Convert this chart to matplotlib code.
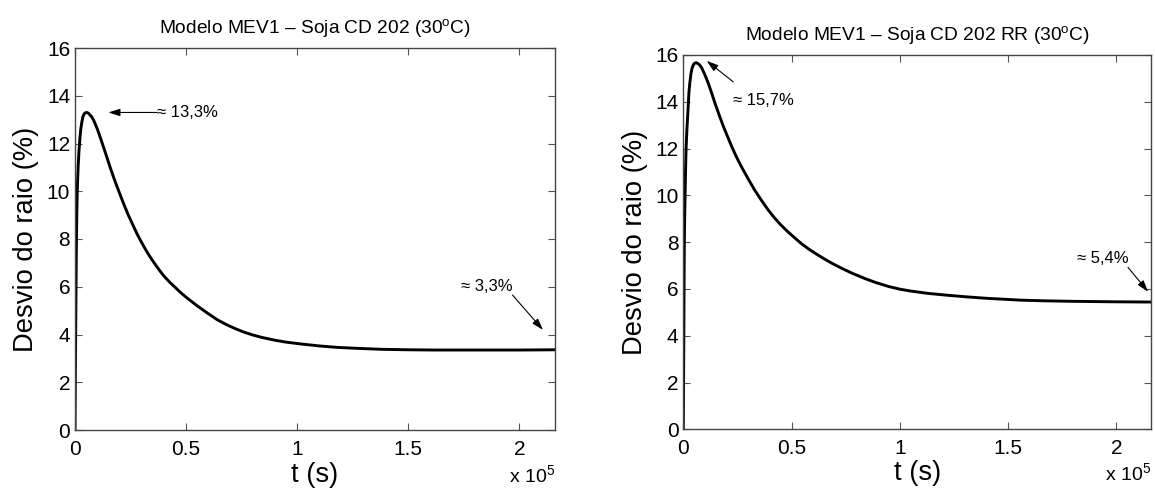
import matplotlib
matplotlib.use("Agg")
import matplotlib.pyplot as plt
from matplotlib.ticker import FuncFormatter

plt.rcParams['font.family'] = ['Liberation Sans', 'DejaVu Sans']
plt.rcParams['mathtext.fontset'] = 'custom'
plt.rcParams['mathtext.rm'] = 'Liberation Sans'
plt.rcParams['mathtext.it'] = 'Liberation Sans:italic'

# ---- data (t in seconds, deviation in %) ----
t_cd202 = [0, 150, 300, 450, 600, 800, 1000, 1400, 1800, 2200, 2600, 3000, 3500,
           4000, 4500, 5300, 6000, 6500, 7500, 8500, 10000, 11500, 13000, 14500,
           16000, 18000, 20000, 22000, 24000, 26000, 28000, 30000, 32000, 34000,
           36000, 38000, 40000, 42500, 45000, 47500, 50000, 55000, 60000, 64000,
           68000, 72000, 76000, 80000, 84000, 90000, 95000, 102000, 110000,
           118000, 127000, 138000, 150000, 162000, 175000, 190000, 200000, 216000]
y_cd202 = [0, 2.2, 4.0, 5.8, 7.5, 9.0, 10.0, 11.0, 11.7, 12.2, 12.6, 12.85, 13.1,
           13.22, 13.28, 13.3, 13.27, 13.22, 13.12, 12.95, 12.62, 12.22, 11.8, 11.38,
           10.95, 10.42, 9.93, 9.45, 9.0, 8.6, 8.2, 7.85, 7.52, 7.22,
           6.95, 6.69, 6.45, 6.2, 5.98, 5.76, 5.56, 5.2, 4.87, 4.62,
           4.42, 4.25, 4.1, 3.98, 3.88, 3.76, 3.68, 3.6, 3.52,
           3.46, 3.42, 3.38, 3.36, 3.35, 3.35, 3.35, 3.35, 3.36]

t_cd202rr = [0, 120, 250, 350, 460, 600, 800, 1000, 1250, 1600, 2000, 2600, 3000,
             3500, 4000, 4500, 5000, 5800, 6500, 7500, 8500, 10000, 11500, 13000,
             14600, 16500, 18500, 20500, 22300, 24500, 27000, 30000, 33000, 36000,
             39000, 42000, 45000, 48000, 51000, 54500, 58000, 61500, 65000, 69000,
             73000, 78000, 84000, 89000, 95000, 100000, 105000, 113000, 122000,
             131000, 140000, 148000, 156000, 168000, 180000, 200000, 216000]
y_cd202rr = [0, 2.0, 4.0, 6.0, 7.8, 8.9, 9.9, 10.9, 11.9, 12.7, 13.35, 14.4, 14.8,
             15.18, 15.42, 15.55, 15.63, 15.67, 15.65, 15.58, 15.45, 15.15, 14.8, 14.4,
             13.95, 13.45, 12.95, 12.5, 12.1, 11.65, 11.2, 10.7, 10.22, 9.8,
             9.4, 9.05, 8.74, 8.47, 8.22, 7.94, 7.7, 7.49, 7.29, 7.08,
             6.89, 6.67, 6.44, 6.27, 6.1, 5.99, 5.91, 5.81, 5.73,
             5.66, 5.6, 5.56, 5.52, 5.49, 5.47, 5.45, 5.44]

titles = [r'Modelo MEV1 – Soja CD 202 (30$^{\mathrm{o}}$C)',
          r'Modelo MEV1 – Soja CD 202 RR (30$^{\mathrm{o}}$C)']
x_ticks = [0, 50000, 100000, 150000, 200000]
y_ticks = [0, 2, 4, 6, 8, 10, 12, 14, 16]

# annotations: (text, text_xy, arrow_tail, arrow_head)
ann_left = [("≈ 13,3%", (37000, 13.3), (37000, 13.3), (15000, 13.3)),
            ("≈ 3,3%", (173600, 6.02), (196900, 5.65), (210600, 4.19))]
ann_right = [("≈ 15,7%", (23100, 14.05), (23100, 14.85), (10800, 15.75)),
             ("≈ 5,4%", (181600, 7.32), (205400, 6.92), (214700, 5.88))]

fig = plt.figure(figsize=(11.55, 4.88), dpi=100)
positions = [[75/1155, 58/488, 480/1155, 382/488],
             [683.3/1155, 58.7/488, 467.7/1155, 374.3/488]]
series = [(t_cd202, y_cd202), (t_cd202rr, y_cd202rr)]
anns = [ann_left, ann_right]

fmt = FuncFormatter(lambda v, p: ('%g' % (v / 1e5)))

for i in range(2):
    ax = fig.add_axes(positions[i])
    t, y = series[i]
    ax.plot(t, y, color='black', lw=2.1, solid_joinstyle='round')
    ax.set_xlim(0, 216000)
    ax.set_ylim(0, 16)
    ax.set_xticks(x_ticks)
    ax.set_yticks(y_ticks)
    ax.xaxis.set_major_formatter(fmt)
    ax.tick_params(direction='in', top=True, right=True, length=5, width=0.8,
                   color='#555555', labelsize=15, pad=3.5)
    ax.tick_params(axis='x', pad=7)
    for s in ax.spines.values():
        s.set_color('#444444')
        s.set_linewidth(1.0)
    ax.set_title(titles[i], fontsize=13.8, pad=10.6)
    ax.set_ylabel('Desvio do raio (%)', fontsize=19.7)
    ax.set_xlabel('t (s)', fontsize=19.7)
    ax.yaxis.set_label_coords(-0.075, 0.5)
    ax.xaxis.set_label_coords(0.5, -0.083)
    ax.text(1.0, -0.137, r'x 10$^{5}$', transform=ax.transAxes, ha='right',
            va='baseline', fontsize=14)
    for txt, txy, tail, head in anns[i]:
        ax.text(txy[0], txy[1], txt, fontsize=12, ha='left', va='center')
        ax.annotate('', xy=head, xytext=tail,
                    arrowprops=dict(arrowstyle='-|>,head_length=0.7,head_width=0.22',
                                    color='black', lw=0.8, shrinkA=0, shrinkB=0))

fig.savefig('out.png', dpi=100)
